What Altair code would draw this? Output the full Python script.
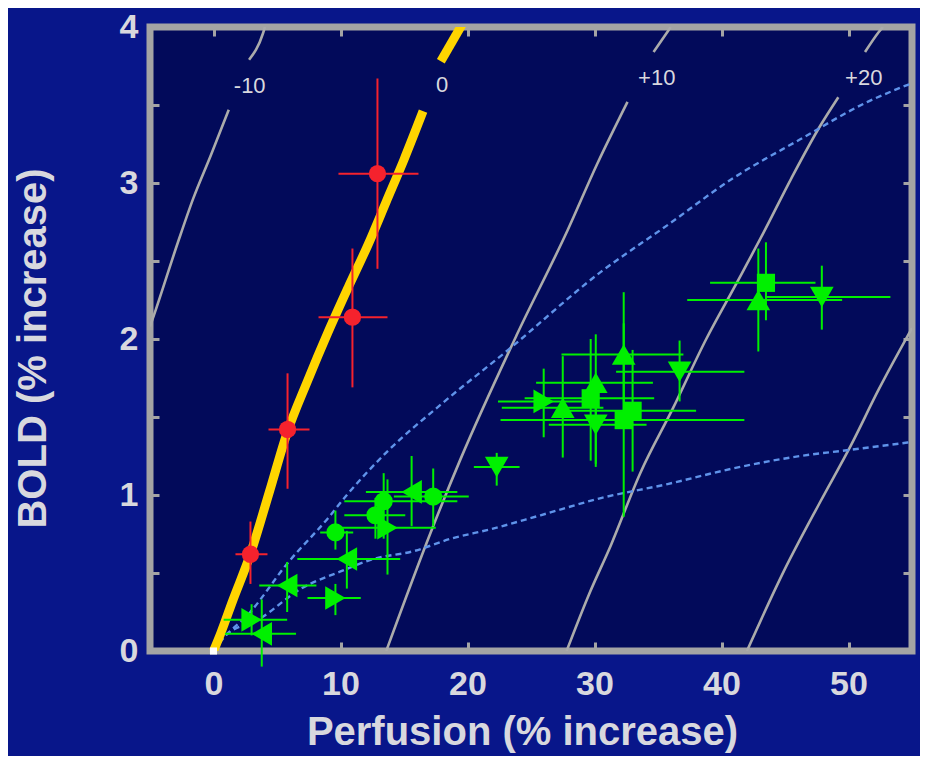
import altair as alt
import pandas as pd

# ---------------- data ----------------
# grey iso-contours, each split around its label
m10_lo_x = [-5.0, -4.7, -2.8, -1.6, -0.2, 1.2]
m10_lo_y = [2.08, 2.15, 2.62, 2.90, 3.18, 3.47]
m10_hi_x = [2.8, 3.9, 4.05]
m10_hi_y = [3.79, 3.96, 4.0]

p10_lo_x = [13.6, 17.1, 19.45, 23.9, 27.9, 30.2, 32.6]
p10_lo_y = [0.0, 0.76, 1.23, 2.03, 2.70, 3.12, 3.52]
p10_hi_x = [34.65, 35.75, 36.0]
p10_hi_y = [3.84, 3.97, 4.0]

p20_lo_x = [27.8, 29.5, 31.3, 33.6, 36.2, 38.8, 41.2, 43.3, 45.5, 47.8, 49.2]
p20_lo_y = [0.0, 0.35, 0.68, 1.14, 1.56, 2.0, 2.36, 2.68, 3.03, 3.37, 3.55]
p20_hi_x = [51.3, 52.4, 52.7]
p20_hi_y = [3.84, 3.97, 4.0]

p30_x = [42.0, 44.9, 47.8, 50.2, 52.4, 55.0]
p30_y = [0.0, 0.51, 0.96, 1.32, 1.68, 2.07]

# yellow zero contour
zero_lo_x = [0, 0.6, 1.5, 2.9, 4.4, 5.8, 7.4, 9.0, 10.6, 12.2, 13.6, 15.0, 16.5]
zero_lo_y = [0, 0.12, 0.32, 0.62, 1.02, 1.40, 1.73, 2.04, 2.33, 2.61, 2.88, 3.15, 3.46]
zero_hi_x = [17.9, 19.6]
zero_hi_y = [3.78, 4.02]

# dashed model curves
dash_up_x = [0, 0.55, 2.9, 5.8, 9.0, 10.5, 13.7, 17.9, 23.2, 30.5, 35.75, 40.9, 46.2, 51.5, 55.0]
dash_up_y = [0, 0.06, 0.25, 0.56, 0.85, 1.0, 1.28, 1.58, 1.93, 2.43, 2.73, 3.03, 3.28, 3.52, 3.64]
dash_lo_x = [0, 0.8, 3.7, 6.9, 10.0, 12.6, 15.75, 18.7, 21.8, 25.75, 30.5, 35.75, 40.9, 46.2, 50.2, 55.0]
dash_lo_y = [0, 0.09, 0.21, 0.40, 0.51, 0.59, 0.64, 0.72, 0.78, 0.87, 0.98, 1.07, 1.17, 1.25, 1.29, 1.34]

# contour labels
lab_x = [2.85, 18.0, 34.9, 51.2]
lab_y = [3.62, 3.63, 3.67, 3.67]
lab_text = ["-10", "0", "+10", "+20"]

# red points
r_x = [2.91, 5.83, 10.94, 12.91]
r_y = [0.62, 1.42, 2.14, 3.06]
r_xlo = [1.73, 4.33, 8.27, 9.84]
r_xhi = [4.25, 7.56, 13.7, 16.14]
r_ylo = [0.43, 1.04, 1.69, 2.45]
r_yhi = [0.83, 1.78, 2.58, 3.67]

# green points
g_x = [3.0, 3.8, 5.8, 9.6, 10.5, 9.6, 12.75, 13.4, 13.7, 15.6, 17.3, 22.3,
       26.0, 27.5, 29.7, 30.1, 30.1, 32.3, 32.3, 33.0, 36.7, 43.5, 42.9, 47.9]
g_y = [0.20, 0.11, 0.42, 0.34, 0.59, 0.76, 0.87, 0.96, 0.79, 1.02, 0.99, 1.18,
       1.60, 1.56, 1.62, 1.72, 1.45, 1.90, 1.48, 1.54, 1.79, 2.36, 2.25, 2.27]
g_xlo = [0.8, 0.9, 3.6, 7.4, 6.6, 8.4, 10.3, 10.3, 9.6, 12.0, 14.2, 20.5,
         22.4, 22.7, 24.5, 25.4, 26.4, 27.4, 22.6, 28.0, 31.7, 39.1, 37.3, 43.5]
g_xhi = [5.8, 6.5, 8.1, 11.6, 14.7, 11.0, 15.1, 19.2, 17.5, 19.2, 20.1, 24.1,
         29.6, 30.7, 34.7, 34.6, 34.1, 37.0, 41.8, 38.0, 41.8, 47.4, 49.5, 53.3]
g_ylo = [0.10, -0.10, 0.25, 0.23, 0.40, 0.65, 0.72, 0.72, 0.49, 0.80, 0.80, 1.06,
         1.37, 1.24, 1.22, 1.18, 1.20, 1.50, 0.86, 1.15, 1.60, 2.12, 1.92, 2.06]
g_yhi = [0.30, 0.33, 0.57, 0.43, 0.77, 0.90, 0.98, 1.14, 1.10, 1.25, 1.17, 1.27,
         1.81, 1.89, 2.00, 2.03, 1.70, 2.30, 2.10, 1.93, 1.99, 2.62, 2.58, 2.47]
g_shape = ["right", "left", "left", "right", "left", "circle", "circle", "circle", "right",
           "left", "circle", "down", "right", "up", "square", "up", "down", "up",
           "square", "square", "down", "square", "up", "down"]

origin_x = [0]
origin_y = [0]

x_ticks = [0, 10, 20, 30, 40, 50]
y_ticks = [0, 0.5, 1, 1.5, 2, 2.5, 3, 3.5, 4]

# ---------------- styling ----------------
BG = "#08168a"
PLOT = "#020a5a"
FRAME = "#a4a4a4"
TXT = "#d8d8de"
RED = "#f5222d"
GREEN = "#00f000"
FONT = "Liberation Sans"

def seg_df(parts):
    rows = []
    for seg, xs_, ys_ in parts:
        for i, (a, b) in enumerate(zip(xs_, ys_)):
            rows.append({"seg": seg, "x": a, "y": b, "ord": i})
    return pd.DataFrame(rows)

gray_df = seg_df([("m10a", m10_lo_x, m10_lo_y), ("m10b", m10_hi_x, m10_hi_y),
                  ("p10a", p10_lo_x, p10_lo_y), ("p10b", p10_hi_x, p10_hi_y),
                  ("p20a", p20_lo_x, p20_lo_y), ("p20b", p20_hi_x, p20_hi_y),
                  ("p30", p30_x, p30_y)])
yellow_df = seg_df([("z0a", zero_lo_x, zero_lo_y), ("z0b", zero_hi_x, zero_hi_y)])
dash_df = seg_df([("du", dash_up_x, dash_up_y), ("dl", dash_lo_x, dash_lo_y)])
lab_df = pd.DataFrame({"x": lab_x, "y": lab_y, "t": lab_text})
red_df = pd.DataFrame({"x": r_x, "y": r_y, "xlo": r_xlo, "xhi": r_xhi, "ylo": r_ylo, "yhi": r_yhi})
green_df = pd.DataFrame({"x": g_x, "y": g_y, "xlo": g_xlo, "xhi": g_xhi, "ylo": g_ylo,
                         "yhi": g_yhi, "shape": g_shape})
origin_df = pd.DataFrame({"x": origin_x, "y": origin_y})

xs = alt.Scale(domain=[-5, 55], nice=False, zero=False)
ys = alt.Scale(domain=[0, 4], nice=False, zero=False)

def X(f="x", axis=None):
    return alt.X(f"{f}:Q", scale=xs, axis=axis)

def Y(f="y", axis=None):
    return alt.Y(f"{f}:Q", scale=ys, axis=axis)

tick_common = dict(domain=False, grid=False, tickColor=FRAME, tickWidth=3, tickSize=9, offset=-9)

x_axis_bottom = alt.Axis(orient="bottom", values=x_ticks, title="Perfusion (% increase)",
                         format="d",
                         labelFont=FONT, labelFontSize=34, labelFontWeight="bold", labelColor=TXT,
                         labelPadding=16, labelFlush=False,
                         titleFont=FONT, titleFontSize=40, titleFontWeight="bold", titleColor=TXT,
                         titlePadding=11, titleX=372, **tick_common)
y_axis_left = alt.Axis(orient="left", values=y_ticks, title="BOLD (% increase)",
                       labelExpr="datum.value % 1 === 0 ? format(datum.value, 'd') : ''",
                       labelFont=FONT, labelFontSize=34, labelFontWeight="bold", labelColor=TXT,
                       labelPadding=12, labelFlush=False,
                       titleFont=FONT, titleFontSize=40, titleFontWeight="bold", titleColor=TXT,
                       titleX=-126, titleY=321, titleBaseline="middle", titleAlign="center",
                       titleAngle=270, **tick_common)
x_axis_top = alt.Axis(orient="top", values=x_ticks, labels=False, title=None, **tick_common)
y_axis_right = alt.Axis(orient="right", values=y_ticks, labels=False, title=None, **tick_common)

gray = alt.Chart(gray_df).mark_line(color="#ababab", strokeWidth=2.6, clip=True,
                                    interpolate="monotone").encode(
    x=X(), y=Y(), detail="seg:N", order="ord:Q")
dashed = alt.Chart(dash_df).mark_line(color="#5f93ea", strokeWidth=2.4, strokeDash=[6, 4], clip=True,
                                      interpolate="monotone").encode(
    x=X(), y=Y(), detail="seg:N", order="ord:Q")
yellow = alt.Chart(yellow_df).mark_line(color="#ffd500", strokeWidth=9, clip=True,
                                        interpolate="monotone").encode(
    x=X(), y=Y(), detail="seg:N", order="ord:Q")
labels = alt.Chart(lab_df).mark_text(font=FONT, fontSize=22, color=TXT).encode(
    x=X(), y=Y(), text="t:N")

red_h = alt.Chart(red_df).mark_rule(color=RED, strokeWidth=2).encode(x=X("xlo"), x2="xhi:Q", y=Y())
red_v = alt.Chart(red_df).mark_rule(color=RED, strokeWidth=2).encode(x=X(), y=Y("ylo"), y2="yhi:Q")
green_h = alt.Chart(green_df).mark_rule(color=GREEN, strokeWidth=2).encode(x=X("xlo"), x2="xhi:Q", y=Y())
green_v = alt.Chart(green_df).mark_rule(color=GREEN, strokeWidth=2).encode(x=X(), y=Y("ylo"), y2="yhi:Q")

shape_scale = alt.Scale(domain=["circle", "square", "up", "down", "left", "right"],
                        range=["circle", "square", "triangle-up", "triangle-down",
                               "triangle-left", "triangle-right"])
green_round = alt.Chart(green_df).transform_filter(
    "datum.shape === 'circle' || datum.shape === 'square'").mark_point(
    filled=True, opacity=1, size=330, color=GREEN).encode(
    x=X(), y=Y(), shape=alt.Shape("shape:N", scale=shape_scale, legend=None))
green_tri = alt.Chart(green_df).transform_filter(
    "datum.shape !== 'circle' && datum.shape !== 'square'").mark_point(
    filled=True, opacity=1, size=560, color=GREEN).encode(
    x=X(), y=Y(), shape=alt.Shape("shape:N", scale=shape_scale, legend=None))

red_pts = alt.Chart(red_df).mark_point(filled=True, opacity=1, size=300, shape="circle",
                                       color=RED).encode(
    x=X(axis=x_axis_bottom), y=Y(axis=y_axis_left))
origin = alt.Chart(origin_df).mark_point(filled=True, opacity=1, size=50, shape="square",
                                         color="white").encode(
    x=X(axis=x_axis_top), y=Y(axis=y_axis_right))

chart = alt.layer(
    gray, dashed, yellow, labels, green_h, green_v, green_round, green_tri,
    red_h, red_v, red_pts, origin
).resolve_axis(x="independent", y="independent").properties(
    width=762, height=624,
    padding={"left": 142, "top": 19, "right": 8, "bottom": 105},
    autosize=alt.AutoSizeParams(type="none"),
    background=BG,
).configure_view(fill=PLOT, stroke=FRAME, strokeWidth=7)

chart.save("out.html", embed_options={"renderer": "svg", "actions": False})
